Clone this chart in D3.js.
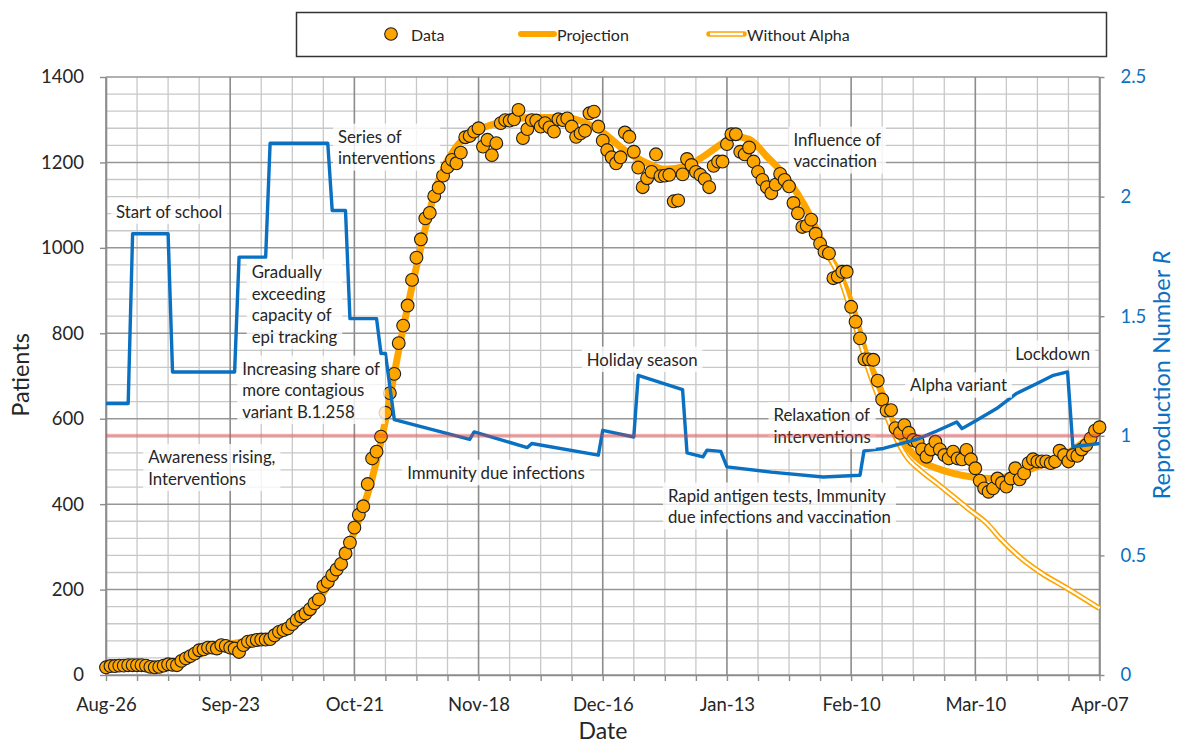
<!DOCTYPE html>
<html>
<head>
<meta charset="utf-8">
<script src="https://cdn.jsdelivr.net/npm/d3@7"></script>
<style>
  body { margin: 0; background: #fff; }
  svg text { font-family: Lato, "Open Sans", sans-serif; fill: #262626; }
</style>
</head>
<body>
<svg id="chart" width="1177" height="747"></svg>
<script>
// ---- data ---------------------------------------------------------------
const startDate = "2020-08-26";
const endDate = "2021-04-07";

// Daily hospitalised patients, one value per day from startDate
const patients = [
  18, 21, 21, 22, 22, 23, 23, 23, 23, 22,
  19, 18, 19, 22, 25, 24, 23, 33, 39, 44,
  50, 58, 60, 64, 64, 62, 70, 68, 64, 62,
  54, 70, 78, 80, 82, 83, 83, 84, 93, 101,
  105, 109, 119, 129, 137, 144, 154, 168, 177, 208,
  218, 234, 247, 260, 285, 310, 345, 375, 395, 447,
  507, 523, 558, 614, 660, 705, 777, 818, 865, 925,
  977, 1020, 1069, 1082, 1121, 1141, 1169, 1189, 1206, 1198,
  1223, 1259, 1262, 1272, 1280, 1237, 1253, 1217, 1245, 1292,
  1299, 1298, 1301, 1323, 1257, 1278, 1299, 1298, 1284, 1292,
  1282, 1272, 1301, 1299, 1303, 1284, 1260, 1268, 1274, 1315,
  1319, 1284, 1251, 1229, 1212, 1198, 1212, 1270, 1260, 1225,
  1188, 1142, 1163, 1178, 1219, 1168, 1169, 1171, 1109, 1111,
  1172, 1208, 1194, 1178, 1171, 1161, 1142, 1192, 1202, 1202,
  1243, 1266, 1266, 1225, 1219, 1235, 1202, 1178, 1159, 1142,
  1128, 1148, 1173, 1159, 1144, 1105, 1081, 1049, 1052, 1066,
  1033, 1010, 991, 987, 929, 933, 944, 944, 862, 827,
  788, 739, 739, 738, 689, 645, 619, 620, 578, 567,
  585, 567, 550, 546, 528, 511, 528, 546, 528, 515,
  507, 523, 507, 505, 527, 505, 484, 455, 437, 429,
  437, 460, 450, 441, 460, 484, 458, 472, 496, 505,
  500, 500, 500, 496, 500, 525, 515, 500, 515, 513,
  528, 538, 554, 572, 580
];

// Model projection (days after startDate, patients)
const projectionDays = [0, 7, 14, 18, 21, 25, 28, 32, 36, 40, 44, 48, 52, 56, 60, 63, 66, 70, 75, 79,
  84, 90, 96, 103, 108, 112, 117, 122, 126, 131, 135, 139, 142, 145, 149, 153, 156, 159, 162, 166,
  168.5, 171.5, 174, 177.5, 180.5, 183.5, 187.3, 191, 195.6, 200, 204.6, 209, 213.6, 218, 221, 224];
const projectionValues = [20, 22, 24, 33, 48, 64, 72, 80, 88, 104, 133, 178, 245, 335, 460, 595, 760, 956, 1159, 1237,
  1276, 1297, 1305, 1305, 1293, 1270, 1228, 1198, 1184, 1192, 1216, 1245, 1260, 1254, 1214, 1170, 1125, 1070, 1000, 925,
  855, 745, 685, 589, 535, 503, 484, 472, 463, 460, 468, 484, 503, 527, 550, 578];

// Projection without the Alpha variant
const withoutAlphaDays = [160, 162, 166, 168, 170, 172, 174, 176, 178, 180.5, 183.5, 187.3, 191, 194.8, 198.6,
  201.6, 206.5, 211, 216.7, 224];
const withoutAlphaValues = [1040, 1000, 915, 850, 780, 712, 655, 606, 557, 511, 480, 449, 418, 386, 355,
  320, 272, 238, 203, 156];

// Reproduction number R (days after startDate, R)
const rDays = [0, 5, 6, 14, 15, 29, 30, 36, 37, 50, 51, 54, 55, 61, 62, 63, 65, 82, 83, 95,
  96, 111, 112, 119, 120, 130, 131, 134.6, 135.5, 138.6, 140, 150, 161.7, 170, 170.9, 175.3, 182.8, 187.3, 191.8, 193,
  196.3, 200.8, 205.3, 209.8, 213.6, 216.8, 218, 224];
const rValues = [1.135, 1.135, 1.845, 1.845, 1.267, 1.267, 1.747, 1.747, 2.223, 2.223, 1.942, 1.942, 1.49, 1.49, 1.344, 1.344, 1.068, 0.985, 1.016, 0.951,
  0.968, 0.919, 1.023, 0.995, 1.253, 1.193, 0.929, 0.912, 0.94, 0.935, 0.87, 0.848, 0.828, 0.835, 0.937, 0.947, 0.985, 1.02, 1.058, 1.03,
  1.065, 1.114, 1.177, 1.218, 1.253, 1.267, 0.954, 0.968];

const rThreshold = 1;

const leftTicks = [0, 200, 400, 600, 800, 1000, 1200, 1400];
const rightTicks = [0, 0.5, 1, 1.5, 2, 2.5];
const rightTickLabels = ["0", "0.5", "1", "1.5", "2", "2.5"];

// Annotations: text lines, anchored at (days after startDate, patients)
const noteLines = [
  ["Start of school"],
  ["Series of", "interventions"],
  ["Gradually", "exceeding", "capacity of", "epi tracking"],
  ["Increasing share of", "more contagious", "variant B.1.258"],
  ["Awareness rising,", "Interventions"],
  ["Immunity due infections"],
  ["Holiday season"],
  ["Influence of", "vaccination"],
  ["Relaxation of", "interventions"],
  ["Rapid antigen tests, Immunity", "due infections and vaccination"],
  ["Alpha variant"],
  ["Lockdown"]
];
const noteDays = [2.25, 52.3, 32.85, 30.7, 9.5, 67.9, 108.4, 155, 150.5, 126.7, 181.3, 205];
const noteValues = [1086, 1261, 944, 718, 511, 474, 739, 1254, 609, 421, 679, 753];

const legendLabels = ["Data", "Projection", "Without Alpha"];

// ---- layout -------------------------------------------------------------
const svg = d3.select("#chart");
const ORANGE = "#FFA500";
const BLUE = "#0a70c2";
const plotL = 106, plotR = 1099.5, plotT = 77, plotB = 675;

const parse = d3.utcParse("%Y-%m-%d");
const t0 = parse(startDate), t1 = parse(endDate);
const dayToDate = d => new Date(t0.getTime() + d * 864e5);
const totalDays = Math.round((t1 - t0) / 864e5);

const x = d3.scaleUtc().domain([t0, t1]).range([plotL, plotR]);
const yL = d3.scaleLinear().domain([0, 1400]).range([plotB, plotT]);
const yR = d3.scaleLinear().domain([0, 2.5]).range([plotB, plotT]);

// weekly grid, every fourth week is a labelled major line
const weeks = d3.range(0, totalDays + 1, 7).map(dayToDate);
const isMajor = d => Math.round((d - t0) / 864e5) % 28 === 0;
const majorDates = weeks.filter(isMajor);
const minorY = d3.range(0, 1401, 40);

// ---- grid ---------------------------------------------------------------
const grid = svg.append("g");
grid.selectAll("line.hmin").data(minorY.filter(v => v % 200 !== 0)).join("line")
  .attr("x1", plotL).attr("x2", plotR).attr("y1", d => yL(d)).attr("y2", d => yL(d))
  .attr("stroke", "#c8c8c8").attr("stroke-width", 1.3);
grid.selectAll("line.vmin").data(weeks.filter(d => !isMajor(d))).join("line")
  .attr("x1", d => x(d)).attr("x2", d => x(d)).attr("y1", plotT).attr("y2", plotB)
  .attr("stroke", "#c8c8c8").attr("stroke-width", 1.3);
grid.selectAll("line.hmaj").data(leftTicks).join("line")
  .attr("x1", plotL).attr("x2", plotR).attr("y1", d => yL(d)).attr("y2", d => yL(d))
  .attr("stroke", "#969696").attr("stroke-width", 1.5);
grid.selectAll("line.vmaj").data(majorDates).join("line")
  .attr("x1", d => x(d)).attr("x2", d => x(d)).attr("y1", plotT).attr("y2", plotB)
  .attr("stroke", "#8c8c8c").attr("stroke-width", 1.6);

// ---- axes ---------------------------------------------------------------
const fmt = d3.utcFormat("%b-%d");
const axisStyle = (g, color) => {
  g.select(".domain").attr("stroke", "#8c8c8c").attr("stroke-width", 1.6);
  g.selectAll(".tick line").attr("stroke", "#8c8c8c").attr("stroke-width", 1.4);
  g.selectAll(".tick text").attr("font-size", 18.5).style("fill", color).attr("font-family", "Lato, sans-serif");
};
svg.append("g").attr("transform", `translate(0,${plotB})`)
  .call(d3.axisBottom(x).tickValues(weeks).tickSize(6).tickSizeOuter(0).tickPadding(17)
    .tickFormat(d => isMajor(d) ? fmt(d) : ""))
  .call(g => axisStyle(g, "#262626"));
svg.append("g").attr("transform", `translate(${plotL},0)`)
  .call(d3.axisLeft(yL).tickValues(leftTicks).tickSize(6).tickSizeOuter(0).tickPadding(16).tickFormat(d3.format("d")))
  .call(g => axisStyle(g, "#262626"));
svg.append("g").attr("transform", `translate(${plotR},0)`)
  .call(d3.axisRight(yR).tickValues(rightTicks).tickSize(5).tickSizeOuter(0).tickPadding(16)
    .tickFormat((d, i) => rightTickLabels[i]))
  .call(g => axisStyle(g, BLUE));

// axis titles
svg.append("text").attr("transform", `translate(20,375) rotate(-90)`)
  .attr("text-anchor", "middle").attr("dominant-baseline", "central")
  .attr("font-size", 23.5).text("Patients");
svg.append("text").attr("x", 603).attr("y", 739).attr("text-anchor", "middle")
  .attr("font-size", 23).text("Date");
const rTitle = svg.append("text").attr("transform", `translate(1161,375) rotate(-90)`)
  .attr("text-anchor", "middle").attr("dominant-baseline", "central")
  .attr("font-size", 23.5).style("fill", BLUE);
rTitle.append("tspan").style("fill", BLUE).text("Reproduction Number ");
rTitle.append("tspan").style("fill", BLUE).attr("font-style", "italic").text("R");

// ---- series -------------------------------------------------------------
const lineL = d3.line().x(d => x(dayToDate(d[0]))).y(d => yL(d[1])).curve(d3.curveMonotoneX);
const projPts = projectionDays.map((d, i) => [d, projectionValues[i]]);
const woPts = withoutAlphaDays.map((d, i) => [d, withoutAlphaValues[i]]);

svg.append("path").attr("d", lineL(projPts)).attr("fill", "none")
  .attr("stroke", ORANGE).attr("stroke-width", 7).attr("stroke-linejoin", "round");
svg.append("path").attr("d", lineL(woPts)).attr("fill", "none")
  .attr("stroke", ORANGE).attr("stroke-width", 5.5);
svg.append("path").attr("d", lineL(woPts)).attr("fill", "none")
  .attr("stroke", "#fff").attr("stroke-width", 2.3);

svg.append("g").selectAll("circle").data(patients).join("circle")
  .attr("cx", (d, i) => x(dayToDate(i))).attr("cy", d => yL(d)).attr("r", 6.4)
  .attr("fill", ORANGE).attr("stroke", "#1e1e1e").attr("stroke-width", 1.1);

const lineR = d3.line().x(d => x(dayToDate(d[0]))).y(d => yR(d[1]));
svg.append("path").attr("d", lineR(rDays.map((d, i) => [d, rValues[i]]))).attr("fill", "none")
  .attr("stroke", BLUE).attr("stroke-width", 3.4).attr("stroke-linejoin", "round");

// ---- annotations --------------------------------------------------------
const LH = 21.5;
const notes = svg.append("g");
noteLines.forEach((lines, i) => {
  const g = notes.append("g");
  const ax = x(dayToDate(noteDays[i])), ay = yL(noteValues[i]);
  const texts = lines.map((s, k) => g.append("text").attr("x", ax).attr("y", ay + k * LH)
    .attr("dominant-baseline", "central").attr("font-size", 16.8).text(s));
  const w = d3.max(texts, t => t.node().getComputedTextLength());
  g.insert("rect", "text").attr("x", ax - 5).attr("y", ay - LH / 2 - 2)
    .attr("width", w + 10).attr("height", lines.length * LH + 4)
    .attr("fill", "#fff").attr("fill-opacity", 0.8);
});

// R = 1 reference line
svg.append("line").attr("x1", plotL).attr("x2", plotR)
  .attr("y1", yR(rThreshold)).attr("y2", yR(rThreshold))
  .attr("stroke", "#e03c3c").attr("stroke-opacity", 0.4).attr("stroke-width", 4);

// ---- legend -------------------------------------------------------------
const lg = svg.append("g");
lg.append("rect").attr("x", 296.5).attr("y", 12.5).attr("width", 810).attr("height", 44)
  .attr("fill", "#fff").attr("stroke", "#333").attr("stroke-width", 1.5);
lg.append("circle").attr("cx", 391).attr("cy", 34).attr("r", 6.3)
  .attr("fill", ORANGE).attr("stroke", "#1e1e1e").attr("stroke-width", 1.1);
lg.append("line").attr("x1", 521).attr("x2", 554).attr("y1", 34).attr("y2", 34)
  .attr("stroke", ORANGE).attr("stroke-width", 6).attr("stroke-linecap", "round");
lg.append("line").attr("x1", 709).attr("x2", 744).attr("y1", 34).attr("y2", 34)
  .attr("stroke", ORANGE).attr("stroke-width", 5.5).attr("stroke-linecap", "round");
lg.append("line").attr("x1", 710).attr("x2", 743).attr("y1", 34).attr("y2", 34)
  .attr("stroke", "#fff").attr("stroke-width", 2.3);
[411, 557, 747].forEach((lx, i) => {
  lg.append("text").attr("x", lx).attr("y", 34).attr("dominant-baseline", "central")
    .attr("font-size", 16).text(legendLabels[i]);
});
</script>
</body>
</html>
